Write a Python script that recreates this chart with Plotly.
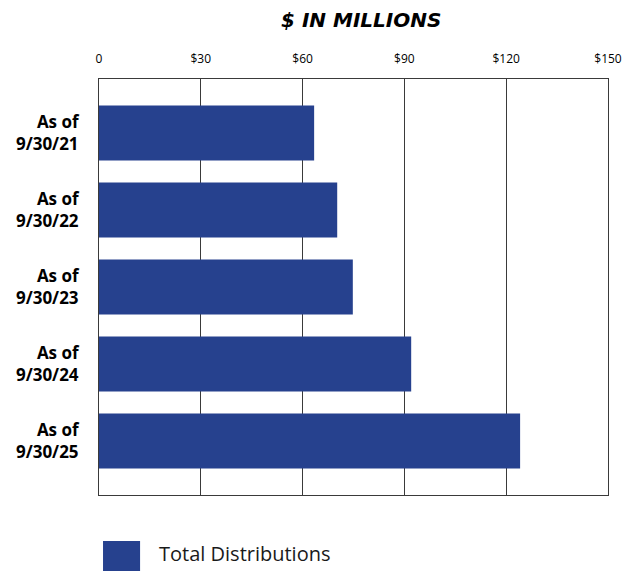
import plotly.graph_objects as go

# Total distributions by fiscal year end, $ millions
periods = ["As of<br>9/30/21", "As of<br>9/30/22", "As of<br>9/30/23",
           "As of<br>9/30/24", "As of<br>9/30/25"]
distributions = [63.4, 70.2, 74.8, 92.0, 124.1]
tick_values = [0, 30, 60, 90, 120, 150]
tick_labels = ["0", "$30", "$60", "$90", "$120", "$150"]

BAR = "#26418e"
FONT = "Open Sans, Noto Sans, sans-serif"

fig = go.Figure()
fig.add_trace(go.Bar(
    x=distributions,
    y=periods,
    orientation="h",
    marker=dict(color=BAR, line=dict(width=0)),
    width=0.714,
    name="Total Distributions",
    showlegend=False,
))

fig.update_layout(
    width=623,
    height=571,
    margin=dict(l=99, r=15, t=79, b=76, autoexpand=False),
    paper_bgcolor="white",
    plot_bgcolor="white",
    font=dict(family=FONT, color="black"),
    xaxis=dict(
        range=[0, 150],
        side="top",
        tickvals=tick_values,
        ticktext=tick_labels,
        tickfont=dict(size=12, color="black"),
        ticks="",
        ticklabelstandoff=10,
        showgrid=True,
        gridcolor="#3a3a3a",
        gridwidth=1,
        showline=True,
        linecolor="#3a3a3a",
        linewidth=1,
        mirror=True,
        zeroline=False,
        automargin=False,
        fixedrange=True,
    ),
    yaxis=dict(
        autorange=False,
        range=[4.7, -0.7],
        tickfont=dict(size=17, color="black", family=FONT, weight="bold"),
        ticks="",
        ticklabelstandoff=16,
        showgrid=False,
        showline=True,
        linecolor="#3a3a3a",
        linewidth=1,
        mirror=True,
        automargin=False,
        fixedrange=True,
    ),
    annotations=[
        dict(
            text="<b><i>$ IN MILLIONS</i></b>",
            x=0.514, y=1.142, xref="paper", yref="paper",
            xanchor="center", yanchor="middle",
            showarrow=False,
            font=dict(size=20, family="DejaVu Sans, sans-serif", color="black"),
        ),
        dict(
            text="Total Distributions",
            x=0.114, y=-0.14, xref="paper", yref="paper",
            xanchor="left", yanchor="middle",
            showarrow=False,
            font=dict(size=20, family=FONT, color="#1a1a1a"),
        ),
    ],
    shapes=[
        dict(
            type="rect", xref="paper", yref="paper",
            x0=0.0079, x1=0.0807, y0=-0.1106, y1=-0.1827,
            fillcolor=BAR, line=dict(width=0),
        ),
    ],
)

fig.write_html("out.html")
